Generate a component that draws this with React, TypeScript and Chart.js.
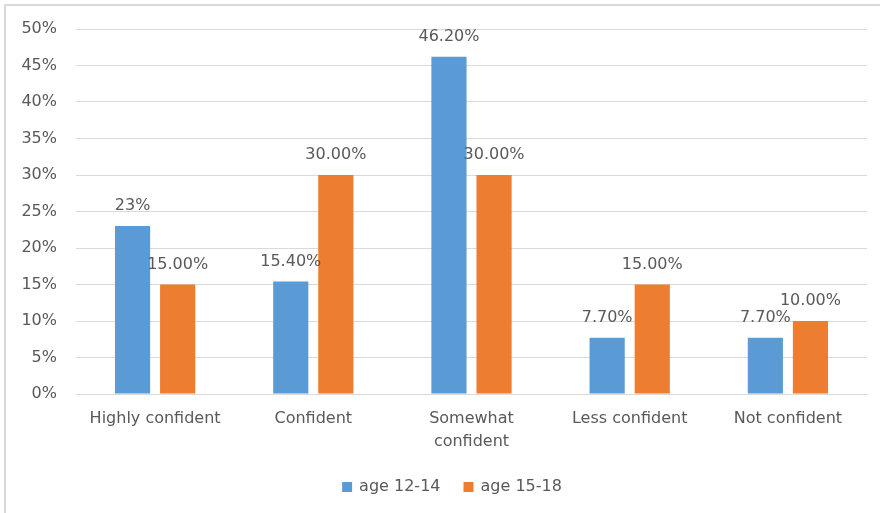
import React, { useEffect, useRef } from "react";
import { Chart, registerables } from "chart.js";

Chart.register(...registerables);

const categories: (string | string[])[] = [
  "Highly confident",
  "Confident",
  ["Somewhat", "confident"],
  "Less confident",
  "Not confident",
];
const age1214 = [23, 15.4, 46.2, 7.7, 7.7];
const age1518 = [15, 30, 30, 15, 10];
const labels1214 = ["23%", "15.40%", "46.20%", "7.70%", "7.70%"];
const labels1518 = ["15.00%", "30.00%", "30.00%", "15.00%", "10.00%"];
const seriesNames = ["age 12-14", "age 15-18"];
const seriesColors = ["#5B9BD5", "#ED7D31"];
const yTicks = [0, 5, 10, 15, 20, 25, 30, 35, 40, 45, 50];

const FONT = "'DejaVu Sans', sans-serif";
const SIZE = 16;
const TEXT = "#595959";

const dataLabelPlugin = {
  id: "dataLabels",
  afterDatasetsDraw(chart: any) {
    const ctx = chart.ctx;
    const all = [labels1214, labels1518];
    ctx.save();
    ctx.font = `${SIZE}px ${FONT}`;
    ctx.fillStyle = TEXT;
    ctx.textAlign = "center";
    ctx.textBaseline = "alphabetic";
    chart.data.datasets.forEach((ds: any, di: number) => {
      const meta = chart.getDatasetMeta(di);
      meta.data.forEach((bar: any, i: number) => {
        ctx.fillText(all[di][i], bar.x, bar.y - 16);
      });
    });
    ctx.restore();
  },
};

const legendPlugin = {
  id: "customLegend",
  afterDraw(chart: any) {
    const ctx = chart.ctx;
    ctx.save();
    ctx.font = `${SIZE}px ${FONT}`;
    ctx.textBaseline = "middle";
    ctx.textAlign = "left";
    const box = 10;
    const gap = 7;
    const itemGap = 23;
    const widths = seriesNames.map((n) => box + gap + ctx.measureText(n).width);
    const total = widths.reduce((a, b) => a + b, 0) + itemGap * (widths.length - 1);
    let x = 452 - total / 2;
    const cy = chart.height - 26;
    seriesNames.forEach((n, i) => {
      ctx.fillStyle = seriesColors[i];
      ctx.fillRect(x, cy - box / 2, box, box);
      ctx.fillStyle = TEXT;
      ctx.fillText(n, x + box + gap, cy);
      x += widths[i] + itemGap;
    });
    ctx.restore();
  },
};

export default function App() {
  const ref = useRef<HTMLCanvasElement>(null);
  useEffect(() => {
    document.body.style.margin = "0";
    const chart = new Chart(ref.current!, {
      type: "bar",
      data: {
        labels: categories,
        datasets: [
          {
            label: seriesNames[0],
            data: age1214,
            backgroundColor: seriesColors[0],
            categoryPercentage: 0.57,
            barPercentage: 0.78,
          },
          {
            label: seriesNames[1],
            data: age1518,
            backgroundColor: seriesColors[1],
            categoryPercentage: 0.57,
            barPercentage: 0.78,
          },
        ],
      },
      options: {
        animation: false,
        responsive: false,
        layout: { padding: { top: 29, right: 13, left: 0, bottom: 49 } },
        plugins: {
          tooltip: { enabled: false },
          legend: { display: false },
        },
        scales: {
          x: {
            grid: { display: false, drawTicks: false },
            border: { display: true, color: "#d9d9d9", width: 1 },
            ticks: {
              color: TEXT,
              font: { family: FONT, size: SIZE, lineHeight: 1.4 },
              padding: 14,
              maxRotation: 0,
              autoSkip: false,
            },
            afterFit: (s: any) => {
              s.height = 70;
            },
          },
          y: {
            min: 0,
            max: 50,
            afterBuildTicks: (s: any) => {
              s.ticks = yTicks.map((v) => ({ value: v }));
            },
            grid: { color: "#d9d9d9", drawTicks: false },
            border: { display: false },
            ticks: {
              color: TEXT,
              font: { family: FONT, size: SIZE },
              padding: 19,
              callback: (v: any) => `${v}%`,
            },
            afterFit: (s: any) => {
              s.width = 76;
            },
          },
        },
      },
      plugins: [dataLabelPlugin, legendPlugin],
    });
    return () => chart.destroy();
  }, []);
  return (
    <div style={{ position: "relative", width: 880, height: 513, overflow: "hidden", background: "#fff" }}>
      <div
        style={{
          position: "absolute",
          left: 4,
          top: 4,
          width: 900,
          height: 600,
          border: "2px solid #d9d9d9",
          boxSizing: "border-box",
        }}
      />
      <canvas ref={ref} width={880} height={513} style={{ position: "absolute", left: 0, top: 0 }} />
    </div>
  );
}
